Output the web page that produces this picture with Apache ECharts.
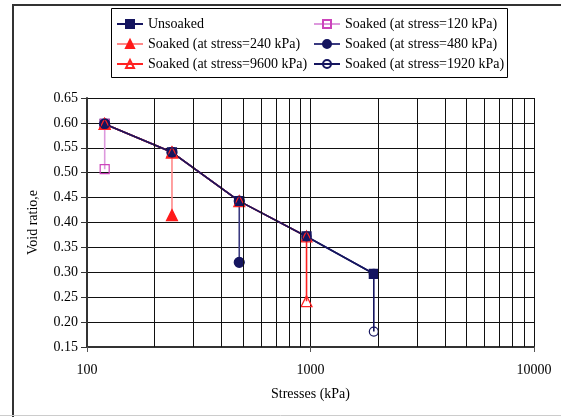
<!DOCTYPE html>
<html><head><meta charset="utf-8">
<script src="https://cdn.jsdelivr.net/npm/echarts@6/dist/echarts.min.js"></script>
<style>html,body{margin:0;padding:0;background:#fff}#c{width:561px;height:417px}</style>
</head><body><div id="c"></div>
<script>
var stresses = [120, 240, 480, 960, 1920];
var unsoaked = [0.598, 0.541, 0.443, 0.372, 0.297];
var soaked = [0.507, 0.415, 0.320, 0.242, 0.181];
var seriesNames = ['Unsoaked', 'Soaked (at stress=120 kPa)', 'Soaked (at stress=240 kPa)',
  'Soaked (at stress=480 kPa)', 'Soaked (at stress=9600 kPa)', 'Soaked (at stress=1920 kPa)'];
var yTicks = [0.15, 0.65, 0.05];
var xTicks = [100, 10000];
var minorGrid = [200, 300, 400, 500, 600, 700, 800, 900, 2000, 3000, 4000, 5000, 6000, 7000, 8000, 9000];

var NAVY = '#15155f';
var FONT = 'Liberation Serif';

var styles = [
  {symbol: 'rect', size: 9, fill: NAVY, border: NAVY, line: NAVY},
  {symbol: 'rect', size: 9, fill: 'rgba(0,0,0,0)', border: '#cc44bb', line: '#dd99dd'},
  {symbol: 'triangle', size: 11, fill: '#ff1a1a', border: '#ff1a1a', line: '#ff8888'},
  {symbol: 'circle', size: 10, fill: NAVY, border: NAVY, line: '#3a3a80'},
  {symbol: 'triangle', size: 11, fill: 'rgba(0,0,0,0)', border: '#ff2222', line: '#ff2222'},
  {symbol: 'circle', size: 9, fill: 'rgba(0,0,0,0)', border: NAVY, line: NAVY}
];

var series = [];
for (var s = 0; s < 6; s++) {
  var data = [];
  if (s === 0) {
    for (var i = 0; i < stresses.length; i++) data.push([stresses[i], unsoaked[i]]);
  } else {
    var k = s - 1;
    for (var j = 0; j <= k; j++) data.push([stresses[j], unsoaked[j]]);
    data.push([stresses[k], soaked[k]]);
  }
  var st = styles[s];
  series.push({
    name: seriesNames[s], type: 'line', data: data,
    symbol: st.symbol, symbolSize: st.size, showAllSymbol: true,
    itemStyle: {color: st.fill, borderColor: st.border, borderWidth: 1.2},
    lineStyle: {color: st.line, width: 1.6},
    animation: false
  });
}
series.push({
  type: 'line', data: [], silent: true, animation: false,
  markLine: {silent: true, symbol: ['none', 'none'], label: {show: false},
    lineStyle: {color: '#111', width: 1, type: 'solid'},
    data: minorGrid.map(function (v) { return {xAxis: v}; })}
});

var legendCommon = {
  orient: 'vertical', top: 17, padding: 0, itemWidth: 26, itemHeight: 10, itemGap: 6,
  textStyle: {fontFamily: FONT, fontSize: 14, color: '#000'},
  itemStyle: {}, selectedMode: false
};

var chart = echarts.init(document.getElementById('c'));
chart.setOption({
  backgroundColor: '#fff',
  animation: false,
  grid: {left: 87, right: 27, top: 98, bottom: 70},
  legend: [
    Object.assign({}, legendCommon, {left: 116, data: [seriesNames[0], seriesNames[2], seriesNames[4]]}),
    Object.assign({}, legendCommon, {left: 313, data: [seriesNames[1], seriesNames[3], seriesNames[5]]})
  ],
  graphic: [
    {type: 'rect', shape: {x: 111.5, y: 8.5, width: 396, height: 69}, style: {fill: 'none', stroke: '#000', lineWidth: 1}, z: -1},
    {type: 'polyline', shape: {points: [[13, 417], [13, 5], [561, 5]]}, style: {fill: 'none', stroke: '#333', lineWidth: 2}},
    {type: 'line', shape: {x1: 0, y1: 415.5, x2: 561, y2: 415.5}, style: {stroke: '#ccc', lineWidth: 1}}
  ],
  xAxis: {
    type: 'log', logBase: 10, min: xTicks[0], max: xTicks[1],
    name: 'Stresses (kPa)', nameLocation: 'middle', nameGap: 40,
    nameTextStyle: {fontFamily: FONT, fontSize: 14, color: '#000'},
    axisLine: {onZero: false, lineStyle: {color: '#333', width: 2}},
    axisTick: {show: true, inside: false, length: 5, lineStyle: {color: '#555'}},
    axisLabel: {fontFamily: FONT, fontSize: 14, color: '#000', margin: 16,
      formatter: function (v) { return String(Math.round(v)); }},
    splitLine: {show: true, lineStyle: {color: '#111', width: 1}},
    minorTick: {show: false}, minorSplitLine: {show: false}
  },
  yAxis: {
    type: 'value', min: yTicks[0], max: yTicks[1], interval: yTicks[2],
    name: 'Void ratio,e', nameLocation: 'middle', nameGap: 47, nameRotate: 90,
    nameTextStyle: {fontFamily: FONT, fontSize: 14, color: '#000'},
    axisLine: {show: true, lineStyle: {color: '#333', width: 2}},
    axisTick: {show: true, inside: false, length: 6, lineStyle: {color: '#333'}},
    axisLabel: {fontFamily: FONT, fontSize: 14, color: '#000', margin: 9,
      formatter: function (v) { return v.toFixed(2); }},
    splitLine: {show: true, lineStyle: {color: '#111', width: 1}}
  },
  series: series
});
</script>
</body></html>
